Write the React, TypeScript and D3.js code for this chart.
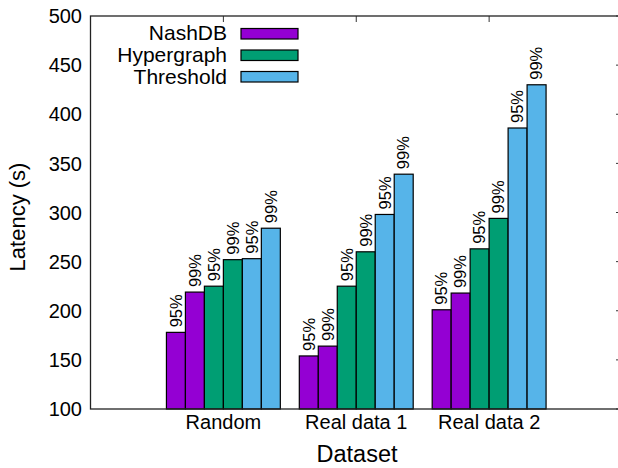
import React from "react";
import * as d3 from "d3";

const categories = ["Random", "Real data 1", "Real data 2"];
const seriesNames = ["NashDB", "Hypergraph", "Threshold"];
const seriesColors = ["#9400D3", "#009E73", "#56B4E9"];
const percentiles = ["95%", "99%"];
// values[series][category] = [p95, p99]
const nashDB = [[178, 219], [154, 164], [201, 218]];
const hypergraph = [[225, 252], [225, 260], [263, 294]];
const threshold = [[253, 284], [298, 339], [386, 430]];
const yTicks = [100, 150, 200, 250, 300, 350, 400, 450, 500];

const W = 618;
const H = 468;

export default function App() {
  const series = [nashDB, hypergraph, threshold];
  const x = d3.scaleLinear().domain([-1, 3]).range([90.5, 622]);
  const y = d3.scaleLinear().domain([100, 500]).range([409, 16]);
  const bw = x(1 / 7) - x(0);
  const font = "'Liberation Sans', Arial, Helvetica, sans-serif";

  const bars: React.ReactNode[] = [];
  const labels: React.ReactNode[] = [];
  categories.forEach((c, g) => {
    series.forEach((s, si) => {
      percentiles.forEach((p, pi) => {
        const i = si * 2 + pi;
        const cx = x(g + (i - 2.5) / 7);
        const v = s[g][pi];
        bars.push(
          <rect
            key={`b-${g}-${i}`}
            x={cx - bw / 2}
            y={y(v)}
            width={bw}
            height={y(100) - y(v)}
            fill={seriesColors[si]}
            stroke="#000"
            strokeWidth={1.2}
          />
        );
        labels.push(
          <text
            key={`l-${g}-${i}`}
            transform={`translate(${cx},${y(v) - 5}) rotate(-90)`}
            dy="0.35em"
            fontSize={16.5}
            textAnchor="start"
            fill="#000"
          >
            {p}
          </text>
        );
      });
    });
  });

  return (
    <svg
      width={W}
      height={H}
      style={{ position: "absolute", left: 0, top: 0, background: "#fff" }}
      fontFamily={font}
    >
      <rect x={0} y={0} width={W} height={H} fill="#fff" />
      {categories.map((c, g) => (
        <line key={`tt${g}`} x1={x(g)} x2={x(g)} y1={y(500)} y2={y(500) + 6} stroke="#333" strokeWidth={1} />
      ))}
      {yTicks.map((t) => (
        <line key={`rt${t}`} x1={x(3) - 6} x2={x(3)} y1={y(t)} y2={y(t)} stroke="#333" strokeWidth={1} />
      ))}
      {bars}
      {labels}
      <rect
        x={x(-1)}
        y={y(500)}
        width={x(3) - x(-1)}
        height={y(100) - y(500)}
        fill="none"
        stroke="#222"
        strokeWidth={1.3}
      />
      {yTicks.map((t) => (
        <text key={`yl${t}`} x={82} y={y(t)} dy="0.36em" textAnchor="end" fontSize={20} fill="#000">
          {t}
        </text>
      ))}
      {categories.map((c, g) => (
        <text key={`xl${g}`} x={x(g)} y={429} textAnchor="middle" fontSize={20} fill="#000">
          {c}
        </text>
      ))}
      <text x={357} y={462} textAnchor="middle" fontSize={23.5} fill="#000">
        Dataset
      </text>
      <text transform="translate(25,217) rotate(-90)" textAnchor="middle" fontSize={22} fill="#000">
        Latency (s)
      </text>
      {seriesNames.map((n, si) => (
        <g key={`lg${si}`}>
          <text x={227} y={39.5 + si * 22} textAnchor="end" fontSize={21} fill="#000">
            {n}
          </text>
          <rect
            x={241}
            y={28.5 + si * 21.5}
            width={57}
            height={10.5}
            fill={seriesColors[si]}
            stroke="#000"
            strokeWidth={1.2}
          />
        </g>
      ))}
    </svg>
  );
}
